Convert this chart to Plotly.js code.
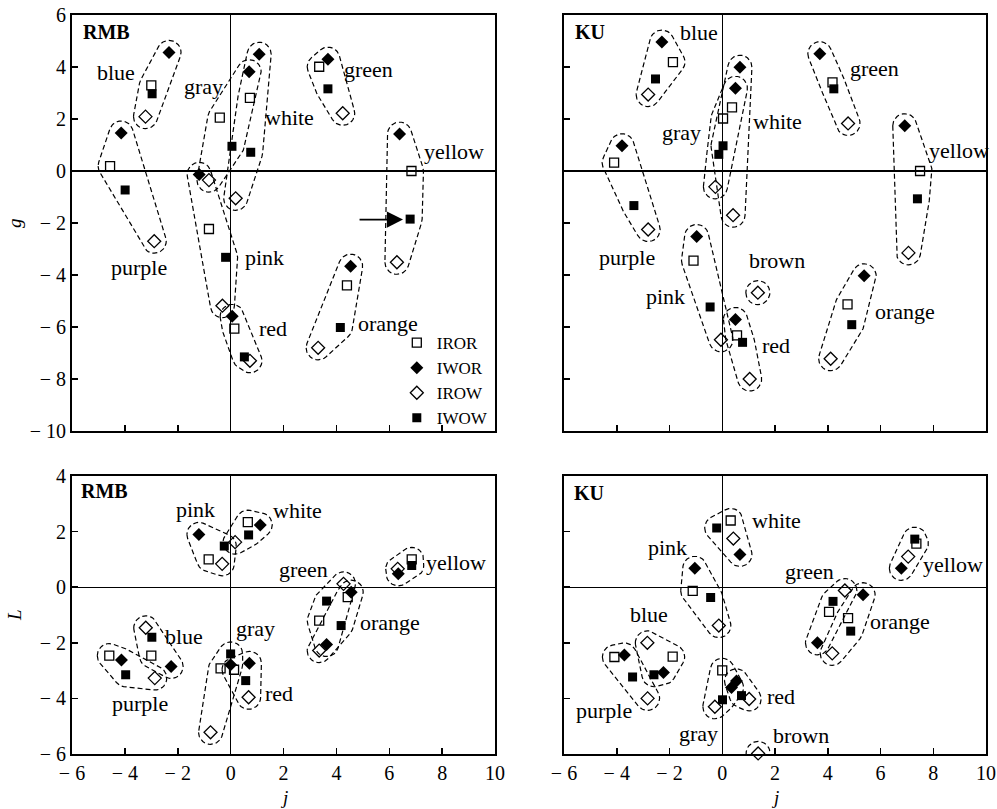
<!DOCTYPE html>
<html>
<head>
<meta charset="utf-8">
<script src="https://cdn.plot.ly/plotly-3.0.1.min.js"></script>
<style>
  html, body { margin: 0; padding: 0; background: #fff; }
  #chart { width: 997px; height: 809px; }
</style>
</head>
<body>
<div id="chart"></div>
<script>
// ---------------- DATA ----------------
const seriesNames = ['IROR', 'IWOR', 'IROW', 'IWOW'];

// Panel A: RMB, g vs j
const rmbG_groups = ['blue', 'purple', 'gray', 'white', 'green', 'yellow', 'pink', 'red', 'orange'];
const rmbG_IROR_j = [-3.00, -4.56, -0.41, 0.73, 3.35, 6.84, -0.82, 0.14, 4.40];
const rmbG_IROR_v = [3.29, 0.19, 2.05, 2.81, 4.01, 0.00, -2.23, -6.06, -4.40];
const rmbG_IWOR_j = [-2.33, -4.14, 0.70, 1.08, 3.68, 6.39, -1.19, 0.06, 4.54];
const rmbG_IWOR_v = [4.56, 1.46, 3.82, 4.49, 4.30, 1.42, -0.13, -5.59, -3.66];
const rmbG_IROW_j = [-3.22, -2.89, -0.82, 0.19, 4.24, 6.29, -0.31, 0.73, 3.31];
const rmbG_IROW_v = [2.09, -2.70, -0.35, -1.05, 2.22, -3.51, -5.18, -7.30, -6.80];
const rmbG_IWOW_j = [-2.97, -3.99, 0.05, 0.76, 3.68, 6.79, -0.19, 0.52, 4.15];
const rmbG_IWOW_v = [2.97, -0.73, 0.95, 0.72, 3.16, -1.85, -3.32, -7.15, -6.02];

// Panel B: KU, g vs j
const kuG_groups = ['blue', 'purple', 'gray', 'white', 'green', 'yellow', 'pink', 'red', 'orange', 'brown'];
const kuG_IROR_j = [-1.87, -4.10, 0.03, 0.37, 4.18, 7.50, -1.09, 0.56, 4.75, null];
const kuG_IROR_v = [4.19, 0.32, 2.02, 2.45, 3.41, 0.00, -3.45, -6.32, -5.13, null];
const kuG_IWOR_j = [-2.29, -3.80, 0.50, 0.67, 3.70, 6.92, -0.97, 0.50, 5.38, null];
const kuG_IWOR_v = [4.96, 0.97, 3.18, 3.99, 4.51, 1.74, -2.52, -5.71, -4.03, null];
const kuG_IROW_j = [-2.81, -2.81, -0.26, 0.41, 4.77, 7.06, -0.05, 1.04, 4.11, 1.35];
const kuG_IROW_v = [2.94, -2.25, -0.61, -1.70, 1.83, -3.15, -6.49, -8.00, -7.22, -4.68];
const kuG_IWOW_j = [-2.53, -3.35, -0.13, 0.03, 4.23, 7.40, -0.46, 0.77, 4.91, null];
const kuG_IWOW_v = [3.54, -1.33, 0.64, 0.97, 3.16, -1.07, -5.23, -6.59, -5.91, null];

// Panel C: RMB, L vs j
const rmbL_groups = ['pink', 'white', 'green', 'orange', 'yellow', 'blue', 'purple', 'gray', 'red'];
const rmbL_IROR_j = [-0.83, 0.65, 3.35, 4.43, 6.85, -3.00, -4.59, -0.38, 0.13];
const rmbL_IROR_v = [1.00, 2.34, -1.20, -0.36, 1.00, -2.46, -2.46, -2.92, -2.97];
const rmbL_IWOR_j = [-1.20, 1.12, 3.63, 4.56, 6.34, -2.25, -4.13, 0.00, 0.71];
const rmbL_IWOR_v = [1.90, 2.24, -2.06, -0.18, 0.48, -2.85, -2.62, -2.79, -2.74];
const rmbL_IROW_j = [-0.32, 0.17, 4.27, 3.35, 6.32, -3.21, -2.87, -0.76, 0.68];
const rmbL_IROW_v = [0.84, 1.62, 0.12, -2.28, 0.66, -1.46, -3.27, -5.22, -3.96];
const rmbL_IWOW_j = [-0.24, 0.68, 3.63, 4.18, 6.85, -2.98, -3.97, 0.00, 0.57];
const rmbL_IWOW_v = [1.48, 1.88, -0.50, -1.38, 0.78, -1.80, -3.15, -2.40, -3.36];

// Panel D: KU, L vs j
const kuL_groups = ['white', 'pink', 'yellow', 'green', 'orange', 'blue', 'purple', 'gray', 'red', 'brown'];
const kuL_IROR_j = [0.32, -1.12, 7.36, 4.05, 4.77, -1.88, -4.09, 0.00, null, null];
const kuL_IROR_v = [2.40, -0.13, 1.57, -0.89, -1.11, -2.50, -2.51, -2.99, null, null];
const kuL_IWOR_j = [0.67, -1.04, 6.79, 3.61, 5.34, -2.23, -3.71, 0.35, 0.54, null];
const kuL_IWOR_v = [1.18, 0.68, 0.68, -2.00, -0.27, -3.07, -2.44, -3.61, -3.37, null];
const kuL_IROW_j = [0.42, -0.13, 7.05, 4.65, 4.17, -2.84, -2.83, -0.28, 1.02, 1.36];
const kuL_IROW_v = [1.75, -1.38, 1.10, -0.12, -2.38, -2.00, -4.00, -4.30, -4.02, -5.98];
const kuL_IWOW_j = [-0.21, -0.44, 7.30, 4.20, 4.87, -2.59, -3.40, 0.01, 0.73, null];
const kuL_IWOW_v = [2.13, -0.37, 1.73, -0.51, -1.58, -3.15, -3.23, -4.05, -3.90, null];

const xTickVals = [-6, -4, -2, 0, 2, 4, 6, 8, 10];
const xTickText = ['\u2212 6', '\u2212 4', '\u2212 2', '0', '2', '4', '6', '8', '10'];
const gTickVals = [-10, -8, -6, -4, -2, 0, 2, 4, 6];
const gTickText = ['\u2212 10', '\u2212 8', '\u2212 6', '\u2212 4', '\u2212 2', '0', '2', '4', '6'];
const lTickVals = [-6, -4, -2, 0, 2, 4];
const lTickText = ['\u2212 6', '\u2212 4', '\u2212 2', '0', '2', '4'];

// ---------------- LAYOUT GEOMETRY ----------------
const W = 997, H = 809;
const px = { xL: [72, 495], xR: [564, 986], yT: [15, 431], yB: [476, 754] };
const dom = {
  xL: [px.xL[0] / W, px.xL[1] / W],
  xR: [px.xR[0] / W, px.xR[1] / W],
  yT: [1 - px.yT[1] / H, 1 - px.yT[0] / H],
  yB: [1 - px.yB[1] / H, 1 - px.yB[0] / H]
};
const SERIF = 'Liberation Serif, Times New Roman, serif';

const styles = {
  IROR: { symbol: 'square-open', size: 9, color: '#000', line: { color: '#000', width: 1.3 } },
  IWOR: { symbol: 'diamond', size: 10, color: '#000', line: { color: '#000', width: 0 } },
  IROW: { symbol: 'diamond-open', size: 10, color: '#000', line: { color: '#000', width: 1.3 } },
  IWOW: { symbol: 'square', size: 9, color: '#000', line: { color: '#000', width: 0 } }
};

const panels = [
  { xa: 'x', ya: 'y', groups: rmbG_groups, sx: (px.xL[1]-px.xL[0])/16, sy: (px.yT[1]-px.yT[0])/16,
    s: { IROR: [rmbG_IROR_j, rmbG_IROR_v], IWOR: [rmbG_IWOR_j, rmbG_IWOR_v], IROW: [rmbG_IROW_j, rmbG_IROW_v], IWOW: [rmbG_IWOW_j, rmbG_IWOW_v] } },
  { xa: 'x2', ya: 'y2', groups: kuG_groups, sx: (px.xR[1]-px.xR[0])/16, sy: (px.yT[1]-px.yT[0])/16,
    s: { IROR: [kuG_IROR_j, kuG_IROR_v], IWOR: [kuG_IWOR_j, kuG_IWOR_v], IROW: [kuG_IROW_j, kuG_IROW_v], IWOW: [kuG_IWOW_j, kuG_IWOW_v] } },
  { xa: 'x3', ya: 'y3', groups: rmbL_groups, sx: (px.xL[1]-px.xL[0])/16, sy: (px.yB[1]-px.yB[0])/10,
    s: { IROR: [rmbL_IROR_j, rmbL_IROR_v], IWOR: [rmbL_IWOR_j, rmbL_IWOR_v], IROW: [rmbL_IROW_j, rmbL_IROW_v], IWOW: [rmbL_IWOW_j, rmbL_IWOW_v] } },
  { xa: 'x4', ya: 'y4', groups: kuL_groups, sx: (px.xR[1]-px.xR[0])/16, sy: (px.yB[1]-px.yB[0])/10,
    s: { IROR: [kuL_IROR_j, kuL_IROR_v], IWOR: [kuL_IWOR_j, kuL_IWOR_v], IROW: [kuL_IROW_j, kuL_IROW_v], IWOW: [kuL_IWOW_j, kuL_IWOW_v] } }
];

// rounded convex hull around a group's points (computed in pixel space)
function roundedHull(xs, ys, sx, sy, r) {
  const pts = [];
  const N = 36;
  for (let i = 0; i < xs.length; i++) {
    for (let k = 0; k < N; k++) {
      const a = 2 * Math.PI * k / N;
      pts.push([xs[i] * sx + r * Math.cos(a), ys[i] * sy + r * Math.sin(a)]);
    }
  }
  pts.sort((a, b) => a[0] - b[0] || a[1] - b[1]);
  const cross = (o, a, b) => (a[0]-o[0])*(b[1]-o[1]) - (a[1]-o[1])*(b[0]-o[0]);
  const lower = [], upper = [];
  for (const p of pts) {
    while (lower.length >= 2 && cross(lower[lower.length-2], lower[lower.length-1], p) <= 0) lower.pop();
    lower.push(p);
  }
  for (let i = pts.length - 1; i >= 0; i--) {
    const p = pts[i];
    while (upper.length >= 2 && cross(upper[upper.length-2], upper[upper.length-1], p) <= 0) upper.pop();
    upper.push(p);
  }
  const hull = lower.slice(0, -1).concat(upper.slice(0, -1));
  hull.push(hull[0]);
  return { x: hull.map(p => p[0] / sx), y: hull.map(p => p[1] / sy) };
}

const traces = [];
// outlines first
panels.forEach(p => {
  p.groups.forEach((g, gi) => {
    const xs = [], ys = [];
    seriesNames.forEach(sn => {
      const xv = p.s[sn][0][gi], yv = p.s[sn][1][gi];
      if (xv !== null && yv !== null) { xs.push(xv); ys.push(yv); }
    });
    const h = roundedHull(xs, ys, p.sx, p.sy, 12);
    traces.push({
      type: 'scatter', mode: 'lines', x: h.x, y: h.y, xaxis: p.xa, yaxis: p.ya,
      line: { color: '#000', width: 1.2, dash: '5px,3px' },
      showlegend: false, hoverinfo: 'skip', cliponaxis: false, name: g
    });
  });
});
// markers
panels.forEach((p, pi) => {
  seriesNames.forEach(sn => {
    traces.push({
      type: 'scatter', mode: 'markers', name: sn,
      x: p.s[sn][0], y: p.s[sn][1], xaxis: p.xa, yaxis: p.ya,
      marker: styles[sn], showlegend: pi === 0, cliponaxis: false,
      hoverinfo: 'skip'
    });
  });
});

function axisBase(extra) {
  return Object.assign({
    showline: true, linecolor: '#000', linewidth: 2, mirror: true,
    ticks: 'inside', ticklen: 6, tickwidth: 1.5, tickcolor: '#000',
    showgrid: false, zeroline: true, zerolinecolor: '#000', zerolinewidth: 1.2,
    tickfont: { family: SERIF, size: 20, color: '#000' },
    tickmode: 'array', fixedrange: true
  }, extra);
}

const layout = {
  width: W, height: H,
  margin: { l: 0, r: 0, t: 0, b: 0 },
  paper_bgcolor: '#fff', plot_bgcolor: '#fff',
  showlegend: true,
  legend: {
    x: 0.398, y: 1 - 325 / H, xanchor: 'left', yanchor: 'top',
    bgcolor: 'rgba(0,0,0,0)', borderwidth: 0,
    font: { family: SERIF, size: 17, color: '#000' },
    itemwidth: 30, tracegroupgap: 0
  },
  xaxis: axisBase({ domain: dom.xL, anchor: 'y', range: [-6, 10], tickvals: xTickVals, ticktext: xTickText, showticklabels: false }),
  yaxis: axisBase({ domain: dom.yT, anchor: 'x', range: [-10, 6], tickvals: gTickVals, ticktext: gTickText }),
  xaxis2: axisBase({ domain: dom.xR, anchor: 'y2', range: [-6, 10], tickvals: xTickVals, ticktext: xTickText, showticklabels: false }),
  yaxis2: axisBase({ domain: dom.yT, anchor: 'x2', range: [-10, 6], tickvals: gTickVals, ticktext: gTickText, showticklabels: false }),
  xaxis3: axisBase({ domain: dom.xL, anchor: 'y3', range: [-6, 10], tickvals: xTickVals, ticktext: xTickText }),
  yaxis3: axisBase({ domain: dom.yB, anchor: 'x3', range: [-6, 4], tickvals: lTickVals, ticktext: lTickText }),
  xaxis4: axisBase({ domain: dom.xR, anchor: 'y4', range: [-6, 10], tickvals: xTickVals, ticktext: xTickText }),
  yaxis4: axisBase({ domain: dom.yB, anchor: 'x4', range: [-6, 4], tickvals: lTickVals, ticktext: lTickText, showticklabels: false }),
  annotations: [],
  hovermode: false
};

const LF = { family: SERIF, size: 22, color: '#000' };
function lab(text, x, y, xr, yr, font) {
  layout.annotations.push({ text: text, x: x, y: y, xref: xr, yref: yr, showarrow: false,
    xanchor: 'center', yanchor: 'middle', font: font || LF });
}
const BOLD = { family: SERIF, size: 20, color: '#000', weight: 'bold' };
// Panel A labels
lab('<b>RMB</b>', -4.71, 5.35, 'x', 'y', BOLD);
lab('blue', -4.33, 3.80, 'x', 'y');
lab('gray', -1.01, 3.25, 'x', 'y');
lab('white', 2.22, 2.06, 'x', 'y');
lab('green', 5.23, 3.89, 'x', 'y');
lab('yellow', 8.46, 0.76, 'x', 'y');
lab('purple', -3.46, -3.71, 'x', 'y');
lab('pink', 1.27, -3.32, 'x', 'y');
lab('red', 1.61, -6.06, 'x', 'y');
lab('orange', 5.95, -5.87, 'x', 'y');
// Panel B labels
lab('<b>KU</b>', -5.03, 5.35, 'x2', 'y2', BOLD);
lab('blue', -0.88, 5.31, 'x2', 'y2');
lab('gray', -1.56, 1.48, 'x2', 'y2');
lab('white', 2.09, 1.89, 'x2', 'y2');
lab('green', 5.76, 3.93, 'x2', 'y2');
lab('yellow', 8.98, 0.77, 'x2', 'y2');
lab('purple', -3.63, -3.32, 'x2', 'y2');
lab('brown', 2.08, -3.45, 'x2', 'y2');
lab('pink', -2.15, -4.83, 'x2', 'y2');
lab('red', 2.02, -6.71, 'x2', 'y2');
lab('orange', 6.91, -5.39, 'x2', 'y2');
// Panel C labels
lab('<b>RMB</b>', -4.78, 3.46, 'x3', 'y3', BOLD);
lab('pink', -1.34, 2.80, 'x3', 'y3');
lab('white', 2.52, 2.76, 'x3', 'y3');
lab('green', 2.74, 0.64, 'x3', 'y3');
lab('yellow', 8.51, 0.90, 'x3', 'y3');
lab('orange', 6.03, -1.28, 'x3', 'y3');
lab('blue', -1.75, -1.76, 'x3', 'y3');
lab('purple', -3.44, -4.20, 'x3', 'y3');
lab('gray', 0.93, -1.50, 'x3', 'y3');
lab('red', 1.82, -3.81, 'x3', 'y3');
// Panel D labels
lab('<b>KU</b>', -5.07, 3.39, 'x4', 'y4', BOLD);
lab('white', 2.06, 2.40, 'x4', 'y4');
lab('pink', -2.08, 1.42, 'x4', 'y4');
lab('yellow', 8.75, 0.82, 'x4', 'y4');
lab('green', 3.32, 0.56, 'x4', 'y4');
lab('orange', 6.73, -1.23, 'x4', 'y4');
lab('blue', -2.77, -0.99, 'x4', 'y4');
lab('purple', -4.48, -4.44, 'x4', 'y4');
lab('gray', -0.91, -5.25, 'x4', 'y4');
lab('red', 2.21, -3.94, 'x4', 'y4');
lab('brown', 3.00, -5.33, 'x4', 'y4');

// Arrow pointing at the yellow IWOW point (panel A)
layout.annotations.push({
  x: 6.52, y: -1.87, xref: 'x', yref: 'y',
  ax: 4.82, ay: -1.87, axref: 'x', ayref: 'y',
  text: '', showarrow: true, arrowhead: 2, arrowsize: 1.9, arrowwidth: 1.7, arrowcolor: '#000', standoff: 0
});

// Axis titles
const TF = { family: SERIF, size: 19, color: '#000' };
function ttl(text, x, y, ang) {
  layout.annotations.push({ text: text, xref: 'paper', yref: 'paper', x: x, y: y, showarrow: false,
    xanchor: 'center', yanchor: 'middle', textangle: ang, font: TF });
}
ttl('<i>g</i>', 14 / W, (dom.yT[0] + dom.yT[1]) / 2, -90);
ttl('<i>L</i>', 14 / W, (dom.yB[0] + dom.yB[1]) / 2, -90);
ttl('<i>j</i>', (dom.xL[0] + dom.xL[1]) / 2, 1 - 797 / H, 0);
ttl('<i>j</i>', (dom.xR[0] + dom.xR[1]) / 2, 1 - 797 / H, 0);

Plotly.newPlot('chart', traces, layout, { displayModeBar: false, staticPlot: true });
</script>
</body>
</html>
